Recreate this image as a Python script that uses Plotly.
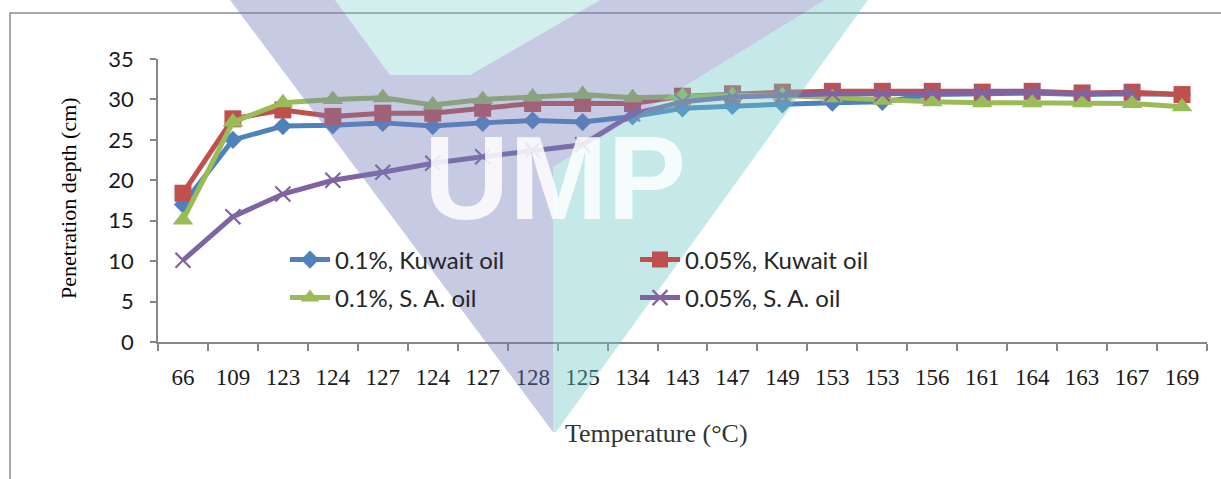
import plotly.graph_objects as go

# Temperature readings (category labels, some repeat) and penetration depths
temps = ["66", "109", "123", "124", "127", "124", "127", "128", "125", "134", "143",
         "147", "149", "153", "153", "156", "161", "164", "163", "167", "169"]

kuwait_01 = [17.0, 25.0, 26.7, 26.8, 27.1, 26.7, 27.1, 27.4, 27.2, 27.9, 28.9,
             29.2, 29.4, 29.6, 29.7, 30.6, 30.7, 30.8, 30.6, 30.7, 30.6]
kuwait_005 = [18.4, 27.6, 28.7, 27.9, 28.3, 28.3, 28.9, 29.5, 29.5, 29.5, 30.4,
              30.7, 30.9, 31.0, 31.0, 31.0, 30.9, 31.0, 30.8, 30.9, 30.6]
sa_01 = [15.1, 27.2, 29.6, 30.0, 30.2, 29.3, 30.0, 30.3, 30.6, 30.2, 30.4,
         30.5, 30.5, 30.2, 29.9, 29.7, 29.6, 29.6, 29.6, 29.5, 29.1]
sa_005 = [10.1, 15.5, 18.3, 20.0, 21.0, 22.1, 22.9, 23.7, 24.4, 28.2, 29.7,
          30.3, 30.5, 30.7, 30.7, 30.8, 30.8, 30.9, 30.7, 30.8, None]

y_ticks = [0, 5, 10, 15, 20, 25, 30, 35]

W, H = 1221, 479
ML, MR, MT, MB = 158, 14, 59, 137
PW, PH = W - ML - MR, H - MT - MB


def px(x):
    return (x - ML) / PW


def py(y):
    return (H - MB - y) / PH


xs = list(range(len(temps)))
series = [
    ("0.1%, Kuwait oil", kuwait_01, "#4f81bd", dict(symbol="diamond", size=14), "legend"),
    ("0.05%, Kuwait oil", kuwait_005, "#c0504d", dict(symbol="square", size=17), "legend"),
    ("0.1%, S. A. oil", sa_01, "#9bbb59", dict(symbol="triangle-up", size=18), "legend2"),
    ("0.05%, S. A. oil", sa_005, "#8064a2",
     dict(symbol="x-thin", size=15, line=dict(width=2.2, color="#8064a2")), "legend2"),
]

fig = go.Figure()
for name, vals, color, marker, leg in series:
    fig.add_trace(go.Scatter(
        x=xs, y=vals, name=name, mode="lines+markers",
        line=dict(color=color, width=5),
        marker=dict(color=color, **marker),
        legend=leg,
    ))

sans = "Lato, 'Open Sans', sans-serif"
serif = "'Liberation Serif', 'Times New Roman', serif"

legend_common = dict(
    orientation="h", xanchor="left", yanchor="middle",
    entrywidth=295, entrywidthmode="pixels",
    font=dict(family=sans, size=24, color="#262626"),
    bgcolor="rgba(0,0,0,0)", itemwidth=40,
)

# watermark polygons (pixel coordinates converted to paper)
violet = [(230, 0), (335, 0), (390, 75), (470, 75), (600, 0), (825, 0),
          (553, 167), (553, 432)]
teal_top = [(335, 0), (600, 0), (470, 75), (390, 75)]
teal = [(825, 0), (868, 0), (556, 432), (553, 432), (553, 167)]


def poly(pts):
    return "M " + " L ".join(f"{px(x):.5f},{py(y):.5f}" for x, y in pts) + " Z"


shapes = [
    dict(type="rect", xref="paper", yref="paper", x0=px(10), y0=py(13), x1=px(1230), y1=py(490),
         line=dict(color="#8c8c8c", width=1.5), layer="below"),
    dict(type="path", xref="paper", yref="paper", path=poly(violet),
         fillcolor="rgba(112,125,185,0.4)", line=dict(width=0), layer="above"),
    dict(type="path", xref="paper", yref="paper", path=poly(teal_top),
         fillcolor="rgba(107,200,197,0.3)", line=dict(width=0), layer="above"),
    dict(type="path", xref="paper", yref="paper", path=poly(teal),
         fillcolor="rgba(107,200,197,0.4)", line=dict(width=0), layer="above"),
]

annotations = [
    dict(text="UMP", xref="paper", yref="paper", x=px(555), y=py(178),
         showarrow=False, font=dict(family="'Liberation Sans', Arial, sans-serif",
                                    size=118, weight="bold",
                                    color="rgba(255,255,255,0.85)"),
         height=112, xanchor="center", yanchor="middle", valign="middle"),
    dict(text="Temperature (°C)", xref="paper", yref="paper", x=px(656), y=py(433),
         showarrow=False, font=dict(family=serif, size=26, color="#333333"),
         xanchor="center", yanchor="middle"),
    dict(text="Penetration depth (cm)", xref="paper", yref="paper", x=px(68), y=py(198),
         showarrow=False, textangle=-90, font=dict(family=serif, size=22, color="#000000"),
         xanchor="center", yanchor="middle"),
]

fig.update_layout(
    width=W, height=H,
    margin=dict(l=ML, r=MR, t=MT, b=MB, pad=0),
    paper_bgcolor="white", plot_bgcolor="white",
    showlegend=True,
    legend=dict(x=px(285), y=py(260), **legend_common),
    legend2=dict(x=px(285), y=py(298), **legend_common),
    shapes=shapes,
    annotations=annotations,
    xaxis=dict(
        range=[-0.5, len(temps) - 0.5],
        tickmode="array", tickvals=xs, ticktext=temps,
        ticks="", showgrid=False, zeroline=False,
        showline=True, linecolor="#868686", linewidth=1.5,
        tickfont=dict(family=serif, size=23, color="#1a1a1a"),
        ticklabelstandoff=14,
        minor=dict(ticks="outside", tick0=-0.5, dtick=1, ticklen=7,
                   tickcolor="#868686", tickwidth=1.5, showgrid=False),
    ),
    yaxis=dict(
        range=[0, 35], tickmode="array", tickvals=y_ticks,
        ticks="outside", ticklen=6, tickcolor="#868686", tickwidth=1.5,
        showgrid=False, zeroline=False,
        showline=True, linecolor="#868686", linewidth=1.5,
        tickfont=dict(family=sans, size=22, color="#1a1a1a"),
        ticklabelstandoff=12,
    ),
)

fig.write_html("out.html")
